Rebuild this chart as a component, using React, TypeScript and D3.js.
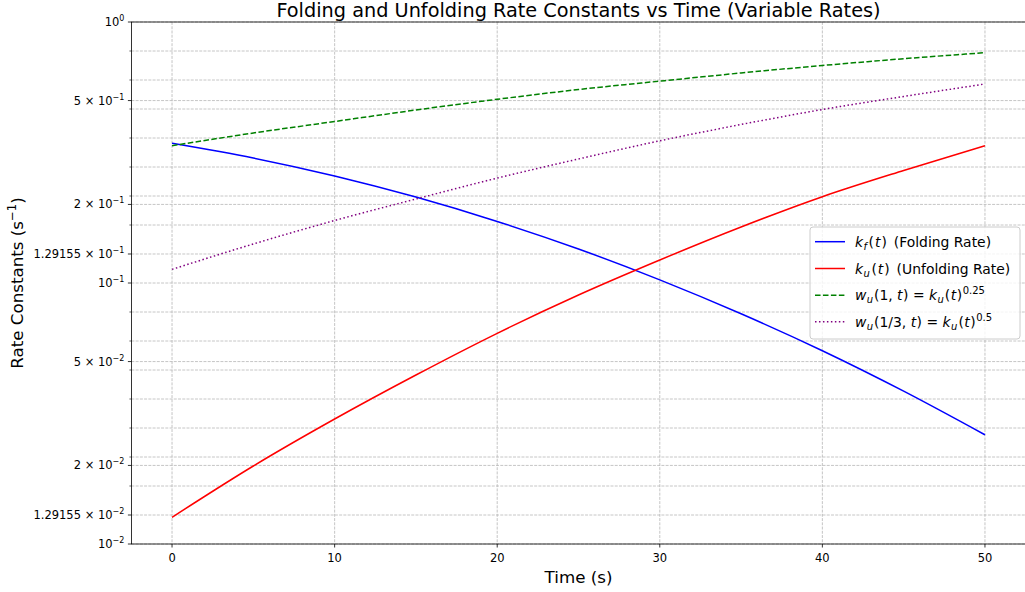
import React from "react";
import * as d3 from "d3";

const time = [0, 5, 10, 15, 20, 25, 30, 35, 40, 45, 50];
const kf = [0.343, 0.3012, 0.2571, 0.2134, 0.1721, 0.135, 0.1028, 0.0762, 0.055, 0.0385, 0.0262];
const ku = [0.01266, 0.0199, 0.03012, 0.04441, 0.06416, 0.08995, 0.1225, 0.1639, 0.2141, 0.2698, 0.3357];
const wu1 = [0.3357, 0.3756, 0.4157, 0.4601, 0.5057, 0.5511, 0.5934, 0.6378, 0.6813, 0.7233, 0.7627];
const wu13 = [0.1128, 0.1411, 0.1736, 0.2098, 0.2523, 0.2987, 0.3506, 0.4048, 0.4621, 0.5184, 0.5787];

const xTicks = [0, 10, 20, 30, 40, 50];
// labeled y ticks: [value, mantissa, exponent]
const yMajorTicks: [number, string, string][] = [
  [1, "", "0"],
  [0.5, "5", "−1"],
  [0.2, "2", "−1"],
  [0.129155, "1.29155", "−1"],
  [0.1, "", "−1"],
  [0.05, "5", "−2"],
  [0.02, "2", "−2"],
  [0.0129155, "1.29155", "−2"],
  [0.01, "", "−2"],
];
const ninthExps = d3.range(-18, 1);

const W = 1025;
const H = 592;
const L = 131.4;
const R = 1025.6;
const T = 22;
const B = 544;
const FONT = "DejaVu Sans, sans-serif";

type Part = { t: string; i?: boolean; s?: "sub" | "sup"; dx?: number };

function MathText({ x, y, parts, size }: { x: number; y: number; parts: Part[]; size: number }) {
  let cur = 0;
  const spans = parts.map((p, idx) => {
    const target = p.s === "sub" ? size * 0.22 : p.s === "sup" ? -size * 0.42 : 0;
    const dy = target - cur;
    cur = target;
    return (
      <tspan
        key={idx}
        dy={dy}
        dx={p.dx || 0}
        fontStyle={p.i ? "italic" : "normal"}
        fontSize={p.s ? size * 0.72 : size}
      >
        {p.t}
      </tspan>
    );
  });
  return (
    <text x={x} y={y} fontFamily={FONT} fontSize={size} fill="#000" style={{ whiteSpace: "pre" }}>
      {spans}
    </text>
  );
}

export default function App() {
  const x = d3.scaleLinear().domain([-2.5, 52.5]).range([L, R]);
  const y = d3.scaleLog().domain([0.01, 1]).range([B, T]);

  const line = (vals: number[]) =>
    d3
      .line<number>()
      .x((_, i) => x(time[i]))
      .y((v) => y(v))
      .curve(d3.curveMonotoneX)(vals) || "";

  const series = [
    { vals: kf, color: "#0000ff", dash: undefined as string | undefined },
    { vals: ku, color: "#ff0000", dash: undefined },
    { vals: wu1, color: "#008000", dash: "5.55,2.4" },
    { vals: wu13, color: "#800080", dash: "1.5,2.475" },
  ];

  const majorVals = yMajorTicks.map((d) => d[0]);
  const minorVals = ninthExps
    .map((e) => Math.pow(10, e / 9))
    .filter((v) => !majorVals.some((m) => Math.abs(Math.log10(m) - Math.log10(v)) < 1e-4));
  const gridVals = [...majorVals, ...minorVals];

  const legendItems: { color: string; dash?: string; parts: Part[] }[] = [
    {
      color: "#0000ff",
      parts: [
        { t: "k", i: true },
        { t: "f", i: true, s: "sub", dx: 0.5 },
        { t: "(", dx: 1.5 },
        { t: "t", i: true, dx: 1 },
        { t: ")", dx: 1 },
        { t: " (Folding Rate)", dx: 2.5 },
      ],
    },
    {
      color: "#ff0000",
      parts: [
        { t: "k", i: true },
        { t: "u", i: true, s: "sub", dx: 0.5 },
        { t: "(", dx: 1.5 },
        { t: "t", i: true, dx: 1 },
        { t: ")", dx: 1 },
        { t: " (Unfolding Rate)", dx: 2.5 },
      ],
    },
    {
      color: "#008000",
      dash: "5.55,2.4",
      parts: [
        { t: "w", i: true },
        { t: "u", i: true, s: "sub", dx: 0.3 },
        { t: "(1, ", dx: 1 },
        { t: "t", i: true },
        { t: ")", dx: 0.5 },
        { t: " = " },
        { t: "k", i: true },
        { t: "u", i: true, s: "sub", dx: 0.5 },
        { t: "(", dx: 1 },
        { t: "t", i: true, dx: 0.5 },
        { t: ")", dx: 0.5 },
        { t: "0.25", s: "sup", dx: 0.5 },
      ],
    },
    {
      color: "#800080",
      dash: "1.5,2.475",
      parts: [
        { t: "w", i: true },
        { t: "u", i: true, s: "sub", dx: 0.3 },
        { t: "(1/3, ", dx: 1 },
        { t: "t", i: true },
        { t: ")", dx: 0.5 },
        { t: " = " },
        { t: "k", i: true },
        { t: "u", i: true, s: "sub", dx: 0.5 },
        { t: "(", dx: 1 },
        { t: "t", i: true, dx: 0.5 },
        { t: ")", dx: 0.5 },
        { t: "0.5", s: "sup", dx: 0.5 },
      ],
    },
  ];

  const legX = 810;
  const legY = 227;
  const legW = 210;
  const legH = 112;
  const rowY = [241.7, 268.5, 295.2, 321.8];

  return (
    <svg
      width={W}
      height={H}
      style={{ position: "absolute", left: 0, top: 0, background: "#fff" }}
      fontFamily={FONT}
    >
      <rect x={0} y={0} width={W} height={H} fill="#fff" />
      <defs>
        <clipPath id="plotclip">
          <rect x={L} y={T} width={R - L} height={B - T} />
        </clipPath>
      </defs>
      {/* grid */}
      <g stroke="#b0b0b0" strokeWidth={0.8} strokeDasharray="2.96,1.28" opacity={0.9}>
        {xTicks.map((t) => (
          <line key={"gx" + t} x1={x(t)} x2={x(t)} y1={T} y2={B} />
        ))}
        {gridVals.map((v, i) => (
          <line key={"gy" + i} x1={L} x2={R} y1={y(v)} y2={y(v)} />
        ))}
      </g>
      {/* series */}
      <g clipPath="url(#plotclip)" fill="none">
        {series.map((s, i) => (
          <path key={i} d={line(s.vals)} stroke={s.color} strokeWidth={1.5} strokeDasharray={s.dash} />
        ))}
      </g>
      {/* spines */}
      <rect x={L} y={T} width={R - L} height={B - T} fill="none" stroke="#000" strokeWidth={0.8} />
      {/* x ticks */}
      {xTicks.map((t) => (
        <g key={"xt" + t}>
          <line x1={x(t)} x2={x(t)} y1={B} y2={B + 3.5} stroke="#000" strokeWidth={0.8} />
          <text x={x(t)} y={B + 18} textAnchor="middle" fontSize={11.5} fill="#000">
            {t}
          </text>
        </g>
      ))}
      {/* y minor ticks */}
      {minorVals.map((v, i) => (
        <line key={"ym" + i} x1={L - 2} x2={L} y1={y(v)} y2={y(v)} stroke="#000" strokeWidth={0.6} />
      ))}
      {/* y major ticks */}
      {yMajorTicks.map(([v, m, e], i) => (
        <g key={"yt" + i}>
          <line x1={L - 3.5} x2={L} y1={y(v)} y2={y(v)} stroke="#000" strokeWidth={0.8} />
          <text x={L - 7} y={y(v) + 4} textAnchor="end" fontSize={11.5} fill="#000">
            {m ? <tspan>{m + " × "}</tspan> : null}
            <tspan>10</tspan>
            <tspan dy={-5} fontSize={8}>
              {e}
            </tspan>
          </text>
        </g>
      ))}
      {/* title */}
      <text x={(L + R) / 2} y={16.5} textAnchor="middle" fontSize={19.3} fill="#000">
        Folding and Unfolding Rate Constants vs Time (Variable Rates)
      </text>
      {/* axis labels */}
      <text x={(L + R) / 2} y={583} textAnchor="middle" fontSize={16.7} fill="#000">
        Time (s)
      </text>
      <text
        transform={`translate(23,${(T + B) / 2}) rotate(-90)`}
        textAnchor="middle"
        fontSize={16.7}
        fill="#000"
      >
        Rate Constants (s
        <tspan dy={-7} fontSize={11.7}>
          −1
        </tspan>
        <tspan dy={7}>)</tspan>
      </text>
      {/* legend */}
      <rect
        x={legX}
        y={legY}
        width={legW}
        height={legH}
        rx={3}
        fill="#fff"
        fillOpacity={0.8}
        stroke="#cccccc"
        strokeWidth={1}
      />
      {legendItems.map((it, i) => (
        <g key={"lg" + i}>
          <line
            x1={legX + 5}
            x2={legX + 35}
            y1={rowY[i]}
            y2={rowY[i]}
            stroke={it.color}
            strokeWidth={1.5}
            strokeDasharray={it.dash}
          />
          <MathText x={legX + 45} y={rowY[i] + 5} parts={it.parts} size={13.9} />
        </g>
      ))}
    </svg>
  );
}
